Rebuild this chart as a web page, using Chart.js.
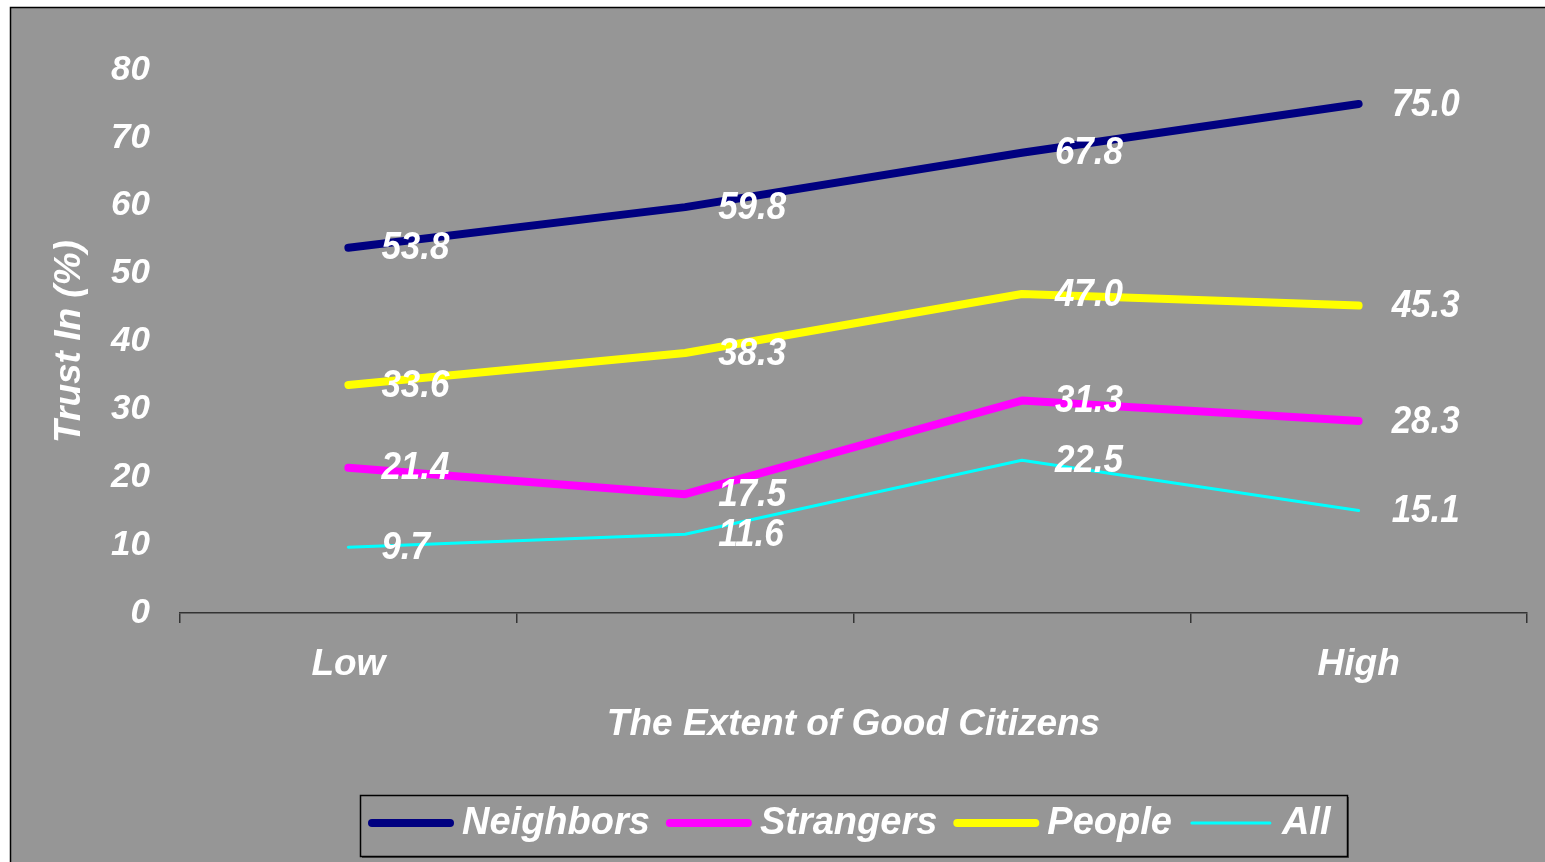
<!DOCTYPE html>
<html>
<head>
<meta charset="utf-8">
<script src="https://cdn.jsdelivr.net/npm/chart.js@4/dist/chart.umd.min.js"></script>
<style>
  body { margin: 0; background: #fff; }
  canvas { display: block; }
</style>
</head>
<body>
<canvas id="trust-chart" width="1545" height="862"></canvas>
<script>
// data
var categories = ['Low', '', '', 'High'];
var neighbors = [53.8, 59.8, 67.8, 75.0];
var strangers = [21.4, 17.5, 31.3, 28.3];
var people = [33.6, 38.3, 47.0, 45.3];
var all = [9.7, 11.6, 22.5, 15.1];
var yTicks = [0, 10, 20, 30, 40, 50, 60, 70, 80];

var FONT = '"Liberation Sans", Arial, sans-serif';

// grey panel with black frame behind everything
var panelPlugin = {
  id: 'panel',
  beforeDraw: function (chart) {
    var ctx = chart.ctx;
    ctx.save();
    ctx.fillStyle = '#ffffff';
    ctx.fillRect(0, 0, chart.width, chart.height);
    ctx.fillStyle = '#969696';
    ctx.fillRect(10, 7, chart.width, chart.height);
    ctx.strokeStyle = '#000000';
    ctx.lineWidth = 1.5;
    ctx.strokeRect(10.5, 7.5, chart.width + 10, chart.height + 10);
    ctx.restore();
  }
};

// value labels to the right of each point (slightly tall, like the original)
var valueLabels = {
  id: 'valueLabels',
  afterDatasetsDraw: function (chart) {
    var ctx = chart.ctx;
    ctx.save();
    ctx.fillStyle = '#ffffff';
    ctx.font = 'italic bold 35px ' + FONT;
    ctx.textAlign = 'left';
    ctx.textBaseline = 'middle';
    chart.data.datasets.forEach(function (ds, i) {
      chart.getDatasetMeta(i).data.forEach(function (pt, j) {
        ctx.save();
        ctx.translate(pt.x + 33, pt.y + 1);
        ctx.scale(1, 1.1);
        ctx.fillText(ds.data[j].toFixed(1), 0, 0);
        ctx.restore();
      });
    });
    ctx.restore();
  }
};

// boxed legend under the axis title
var boxLegend = {
  id: 'boxLegend',
  afterDraw: function (chart) {
    var ctx = chart.ctx;
    var left = 360, top = 795, right = 1347, bottom = 856;
    var midY = 823;
    ctx.save();
    ctx.fillStyle = '#4a4a4a';
    ctx.fillRect(left + 2, bottom, right - left, 2);
    ctx.fillRect(right, top + 2, 2, bottom - top);
    ctx.strokeStyle = '#000000';
    ctx.lineWidth = 1.5;
    ctx.strokeRect(left + 0.5, top + 0.5, right - left, bottom - top);
    ctx.font = 'italic bold 38px ' + FONT;
    ctx.textBaseline = 'middle';
    ctx.textAlign = 'left';
    var x = 372;
    chart.data.datasets.forEach(function (ds) {
      ctx.strokeStyle = ds.borderColor;
      ctx.lineWidth = ds.borderWidth;
      ctx.lineCap = 'round';
      ctx.beginPath();
      ctx.moveTo(x, midY);
      ctx.lineTo(x + 78, midY);
      ctx.stroke();
      x += 90;
      ctx.fillStyle = '#ffffff';
      ctx.fillText(ds.label, x, midY + 1);
      x += ctx.measureText(ds.label).width + 20;
    });
    ctx.restore();
  }
};

function line(label, values, color, width) {
  return {
    label: label,
    data: values,
    borderColor: color,
    backgroundColor: color,
    borderWidth: width,
    borderCapStyle: 'round',
    borderJoinStyle: 'round',
    pointRadius: 0,
    pointHoverRadius: 0,
    tension: 0,
    fill: false
  };
}

var trustChart = new Chart(
  document.getElementById('trust-chart').getContext('2d'),
  {
    type: 'line',
    data: {
      labels: categories,
      datasets: [
        line('Neighbors', neighbors, '#000080', 8),
        line('Strangers', strangers, '#ff00ff', 8),
        line('People', people, '#ffff00', 8),
        line('All', all, '#00ffff', 3)
      ]
    },
    options: {
      responsive: false,
      animation: false,
      devicePixelRatio: 1,
      layout: { padding: { left: 20, right: 18, top: 70, bottom: 0 } },
      plugins: {
        legend: { display: false },
        tooltip: { enabled: false }
      },
      scales: {
        x: {
          offset: true,
          grid: {
            display: true,
            offset: true,
            drawOnChartArea: false,
            drawTicks: true,
            tickLength: 10,
            color: '#333333',
            lineWidth: 1.5
          },
          border: { display: true, color: '#333333', width: 1.5 },
          ticks: {
            color: '#ffffff',
            padding: 20,
            maxRotation: 0,
            autoSkip: false,
            font: { family: FONT, size: 37, style: 'italic', weight: 'bold' }
          },
          title: {
            display: true,
            text: 'The Extent of Good Citizens',
            color: '#ffffff',
            padding: { top: 0, bottom: 115 },
            font: { family: FONT, size: 37, style: 'italic', weight: 'bold' }
          },
          afterFit: function (scale) { scale.height = 249; }
        },
        y: {
          min: 0,
          max: 80,
          grid: { display: false, drawTicks: false },
          border: { display: false },
          afterBuildTicks: function (scale) {
            scale.ticks = yTicks.map(function (v) { return { value: v }; });
          },
          ticks: {
            color: '#ffffff',
            padding: 30,
            font: { family: FONT, size: 35, style: 'italic', weight: 'bold' }
          },
          title: {
            display: true,
            text: 'Trust In (%)',
            color: '#ffffff',
            padding: { top: 28, bottom: 0 },
            font: { family: FONT, size: 37, style: 'italic', weight: 'bold' }
          },
          afterFit: function (scale) { scale.width = 160; }
        }
      }
    },
    plugins: [panelPlugin, valueLabels, boxLegend]
  }
);
</script>
</body>
</html>
